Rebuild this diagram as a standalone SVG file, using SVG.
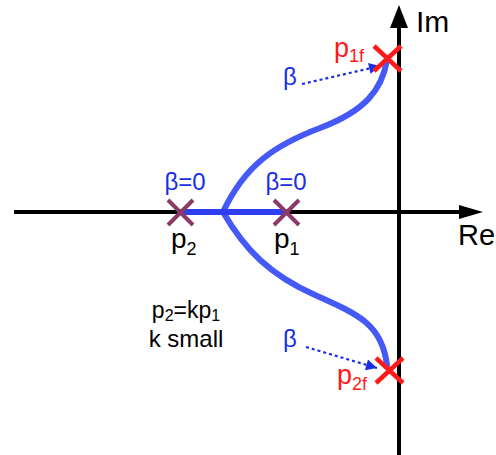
<svg xmlns="http://www.w3.org/2000/svg" width="496" height="455" viewBox="0 0 496 455">
<style>
.ax{stroke:#000;stroke-width:4;fill:none}
.loc{stroke:#4459f6;stroke-width:6;fill:none;stroke-linecap:round}
.xp{stroke:#8b3a66;stroke-width:4;fill:none}
.xr{stroke:#ff1a1a;stroke-width:4.5;fill:none}
.dot{stroke:#1a2ee8;stroke-width:2.2;stroke-dasharray:3,3;fill:none}
text{font-family:"Liberation Sans",Arial,sans-serif}
.k{fill:#000}
.b{fill:#1a2ee8}
.r{fill:#ff1a1a}
</style>
<defs>
<marker id="ah" viewBox="0 0 10 10" refX="10" refY="5" markerWidth="17" markerHeight="11" markerUnits="userSpaceOnUse" orient="auto"><path d="M0,0L10,5L0,10Z" fill="#1a2ee8"/></marker>
</defs>
<g id="axes">
<line class="ax" x1="14" y1="212" x2="462" y2="212"/>
<path d="M459,205L483,212L459,219Z" fill="#000"/>
<line class="ax" x1="399" y1="455" x2="399" y2="26"/>
<path d="M390,28L399,5L408,28Z" fill="#000"/>
<text x="416" y="32" font-size="30" class="k">Im</text>
<text x="458" y="245" font-size="29" class="k">Re</text>
</g>
<g id="connectors">
<path class="loc" d="M223,212C245,165 275,145 320,128S382,90 387,60"/>
<path class="loc" d="M223,212C245,250 270,275 315,295S382,325 387,365"/>
<line x1="180" y1="212" x2="287" y2="212" stroke="#2f3ef0" stroke-width="6"/>
<line class="dot" x1="302" y1="84" x2="380" y2="66" marker-end="url(#ah)"/>
<line class="dot" x1="306" y1="347" x2="377" y2="368" marker-end="url(#ah)"/>
</g>
<g id="p2">
<path class="xp" d="M168,200L193,225M193,200L168,225"/>
<text x="185" y="190" font-size="24" class="b" text-anchor="middle">β=0</text>
<text x="171" y="248" font-size="28" class="k">p<tspan font-size="18" dy="7">2</tspan></text>
</g>
<g id="p1">
<path class="xp" d="M274,200L299,225M299,200L274,225"/>
<text x="286" y="190" font-size="24" class="b" text-anchor="middle">β=0</text>
<text x="274" y="248" font-size="28" class="k">p<tspan font-size="18" dy="7">1</tspan></text>
</g>
<g id="p1f">
<path class="xr" d="M374,46L401,71M401,46L374,71"/>
<text x="334" y="57" font-size="27" class="r">p<tspan font-size="18" dy="5">1f</tspan></text>
<text x="283" y="85" font-size="24" class="b">β</text>
</g>
<g id="p2f">
<path class="xr" d="M376,358L403,383M403,358L376,383"/>
<text x="337" y="384" font-size="27" class="r">p<tspan font-size="18" dy="6">2f</tspan></text>
<text x="283" y="347" font-size="24" class="b">β</text>
</g>
<g id="note">
<text x="186" y="318" font-size="23" class="k" text-anchor="middle">p<tspan font-size="16" dy="3">2</tspan><tspan dy="-3">=kp</tspan><tspan font-size="16" dy="3">1</tspan></text>
<text x="186" y="347" font-size="24" class="k" text-anchor="middle">k small</text>
</g>
</svg>
